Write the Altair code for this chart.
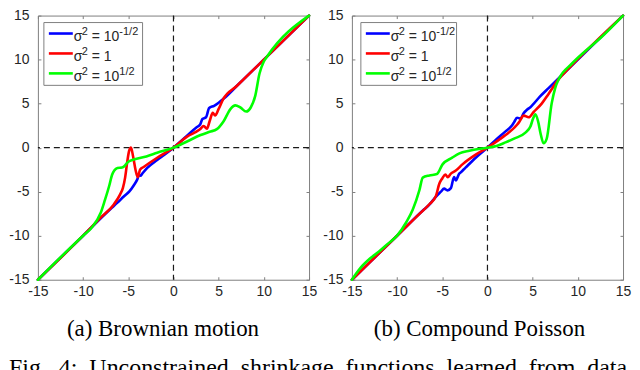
import altair as alt
import pandas as pd

TICKS = [-15, -10, -5, 0, 5, 10, 15]
SERIES = ["σ² = 10^-1/2", "σ² = 1", "σ² = 10^1/2"]
COLORS = ["#0000ff", "#ff0000", "#00ff00"]
LEG_MID = ["= 10", "= 1", "= 10"]
LEG_EXP = ["-1/2", "", "1/2"]
CAPTIONS = ["(a) Brownian motion", "(b) Compound Poisson"]
FIG_WORDS = ["Fig.", "4:", "Unconstrained", "shrinkage", "functions", "learned", "from", "data"]

# ---- (a) Brownian motion ----
A_blue_x = [-15, -10, -7, -6.2, -5.5, -4.9, -4.4, -4.0, -3.8, -3.65, -3.45, -2.9, -1.8, -1.0, 0,
            1.0, 1.5, 2.6, 2.95, 3.2, 3.6, 3.95, 4.5, 5.0, 5.6, 7, 10, 15]
A_blue_y = [-15, -10, -7, -6.25, -5.55, -5.0, -4.3, -3.6, -3.1, -3.2, -2.95, -2.3, -1.4, -0.8, 0,
            0.9, 1.36, 2.35, 2.62, 3.25, 3.45, 4.5, 4.75, 5.1, 5.6, 7, 10, 15]
A_red_x = [-15, -10, -8, -6.6, -5.9, -5.6, -5.35, -5.1, -4.9, -4.7, -4.45, -4.2, -3.95, -3.7, -3.3, -1.8, 0,
           1.5, 2.9, 3.35, 3.7, 4.0, 4.35, 4.6, 5.0, 5.5, 7, 10, 15]
A_red_y = [-15, -10, -7.9, -6.45, -5.3, -4.6, -3.4, -1.5, -0.35, 0.0, -1.1, -2.5, -3.35, -2.5, -2.2, -1.15, 0,
           1.25, 2.05, 2.45, 2.15, 3.0, 3.95, 3.65, 4.4, 5.5, 7, 10, 15]
A_green_x = [-15, -10, -9.1, -8.05, -7.6, -7.1, -6.8, -6.55, -6.2, -5.7, -5.5, -5.0, -4.4, -3.0, -1.8, 0,
             1.5, 3.0, 4.0, 4.8, 5.55, 6.3, 6.84, 7.4, 8.05, 8.55, 9.04, 9.52, 9.96, 10.4, 15]
A_green_y = [-15, -10, -9.15, -7.4, -6.0, -4.3, -3.1, -2.6, -2.3, -2.25, -2.15, -1.6, -1.35, -1.0, -0.58, 0,
             0.7, 1.43, 1.8, 2.1, 3.0, 4.38, 4.8, 4.56, 4.1, 4.56, 5.85, 8.42, 9.7, 10.4, 15]

# ---- (b) Compound Poisson ----
B_blue_x = [-15, -10, -7, -6.43, -5.69, -5.15, -4.8, -4.42, -4.05, -3.7, -3.5, -3.15, -2.95, -2.4, -1.3, 0,
            1.0, 2.0, 2.73, 2.95, 3.27, 3.65, 4.0, 4.37, 4.75, 5.85, 6.76, 8, 15]
B_blue_y = [-15, -10, -7, -6.47, -5.55, -5.0, -4.65, -4.85, -4.6, -3.35, -3.72, -3.0, -2.8, -2.24, -1.14, 0,
            0.95, 1.85, 2.55, 2.9, 3.4, 3.3, 3.9, 4.3, 4.6, 5.85, 6.76, 8, 15]
B_red_x = [-15, -10, -7.5, -6.4, -5.7, -5.33, -5.0, -4.65, -4.4, -4.05, -3.5, -2.77, -1.3, 0,
           1.26, 2.0, 3.27, 3.5, 4.01, 4.56, 5.11, 6.0, 6.76, 7.86, 9, 15]
B_red_y = [-15, -10, -7.5, -6.4, -5.5, -4.1, -3.5, -3.05, -3.35, -2.95, -2.6, -1.9, -0.8, 0,
           0.88, 1.43, 2.6, 2.9, 3.64, 3.45, 4.05, 5.0, 6.1, 7.75, 9, 15]
B_green_x = [-15, -14, -13, -12, -11, -10, -9, -8.26, -7.53, -7.16, -6.43, -5.6, -4.97, -3.9, -3.1, -2.0, 0,
             1.0, 2.0, 3.0, 4.2, 4.75, 5.05, 5.3, 5.6, 5.9, 6.2, 6.55, 7.1, 7.5, 7.9, 9.3, 10.8, 12.5, 15]
B_green_y = [-15, -13.6, -12.6, -11.8, -10.9, -10, -8.5, -7.03, -4.82, -3.4, -3.16, -3.0, -1.9, -1.14, -0.65, -0.35, 0,
             0.2, 0.6, 1.05, 1.7, 2.4, 3.3, 3.8, 3.0, 1.5, 0.5, 1.0, 5.0, 6.8, 7.8, 9.5, 10.95, 12.45, 15]

FRAME = "#7f7f7f"
TXT = "#262626"
ZERO = "#1a1a1a"
SANS = "Liberation Sans"
SERIF = "Liberation Serif"
W, H = 272, 265

xscale = alt.Scale(domain=[-15, 15], nice=False, zero=False)
yscale = alt.Scale(domain=[-15, 15], nice=False, zero=False)
dummy = pd.DataFrame({"a": [0]})


def ax(orient, labels, pad):
    return alt.Axis(orient=orient, values=TICKS, labels=labels, labelExpr="'' + datum.value",
                    labelFont=SANS, labelFontSize=14, labelColor=TXT, labelPadding=pad,
                    labelFlush=False, labelOverlap=False, labelBound=False,
                    domain=False, ticks=True, tickSize=3, tickColor=FRAME, tickWidth=1,
                    offset=-3, grid=False, title=None)


def panel(curves, leg_dx, leg_w, caption, cap_x, fig=False):
    layers = []
    layers.append(alt.Chart(pd.DataFrame({"x": [0]})).mark_rule(
        color=ZERO, strokeWidth=1.2, strokeDash=[6, 4]).encode(
        x=alt.X("x:Q", scale=xscale, axis=ax("top", False, 0))))
    layers.append(alt.Chart(pd.DataFrame({"y": [0]})).mark_rule(
        color=ZERO, strokeWidth=1.2, strokeDash=[6, 4]).encode(
        y=alt.Y("y:Q", scale=yscale, axis=ax("right", False, 0))))
    for k, ((xs, ys), col) in enumerate(zip(curves, COLORS)):
        df = pd.DataFrame({"x": xs, "y": ys, "i": range(len(xs))})
        layers.append(alt.Chart(df).mark_line(
            color=col, strokeWidth=2.6, interpolate="monotone", strokeCap="round", strokeJoin="round").encode(
            x=alt.X("x:Q", scale=xscale, axis=ax("bottom", True, 5) if k == 0 else None),
            y=alt.Y("y:Q", scale=yscale, axis=ax("left", True, 9) if k == 0 else None),
            order="i:Q"))
    # legend box
    layers.append(alt.Chart(dummy).mark_rect(fill="white", stroke=FRAME, strokeWidth=1).encode(
        x=alt.value(leg_dx), x2=alt.value(leg_dx + leg_w), y=alt.value(7), y2=alt.value(70)))
    for r, col in enumerate(COLORS):
        ry = 18 + 20 * r
        layers.append(alt.Chart(dummy).mark_rule(color=col, strokeWidth=2.6).encode(
            x=alt.value(leg_dx + 5), x2=alt.value(leg_dx + 29), y=alt.value(ry)))
        tx = leg_dx + 30
        layers.append(alt.Chart(dummy).mark_text(
            text="σ", font=SANS, fontSize=14, color=TXT, align="left", baseline="alphabetic").encode(
            x=alt.value(tx), y=alt.value(ry + 7.5)))
        layers.append(alt.Chart(dummy).mark_text(
            text="2", font=SANS, fontSize=11, color=TXT, align="left", baseline="alphabetic").encode(
            x=alt.value(tx + 8), y=alt.value(ry + 1.5)))
        layers.append(alt.Chart(dummy).mark_text(
            text=LEG_MID[r], font=SANS, fontSize=14, color=TXT, align="left", baseline="alphabetic").encode(
            x=alt.value(tx + 18), y=alt.value(ry + 7.5)))
        if LEG_EXP[r]:
            layers.append(alt.Chart(dummy).mark_text(
                text=LEG_EXP[r], font=SANS, fontSize=11, color=TXT, align="left", baseline="alphabetic").encode(
                x=alt.value(tx + 45.7), y=alt.value(ry + 1.5)))
    layers.append(alt.Chart(dummy).mark_text(
        text=caption, font=SERIF, fontSize=23, color="black", align="center", baseline="alphabetic").encode(
        x=alt.value(cap_x), y=alt.value(321)))
    if fig:
        sep = " \u00a0"
        layers.append(alt.Chart(dummy).mark_text(
            text=sep.join(FIG_WORDS), font=SERIF, fontSize=24, color="black", align="left",
            baseline="alphabetic", limit=632, ellipsis="").encode(
            x=alt.value(-29), y=alt.value(361)))
    return alt.layer(*layers).resolve_axis(x="independent", y="independent").properties(width=W, height=H)


A = panel([(A_blue_x, A_blue_y), (A_red_x, A_red_y), (A_green_x, A_green_y)], 6, 99, CAPTIONS[0], 125.5, fig=True)
B = panel([(B_blue_x, B_blue_y), (B_red_x, B_red_y), (B_green_x, B_green_y)], 9, 96, CAPTIONS[1], 128)

chart = alt.hconcat(A, B, spacing=43, bounds="flush").properties(
    padding={"left": 0, "top": -1, "right": 0, "bottom": 0}
).configure_view(stroke=FRAME, strokeWidth=1)

chart.save("out.html", embed_options={"renderer": "svg", "actions": False})
